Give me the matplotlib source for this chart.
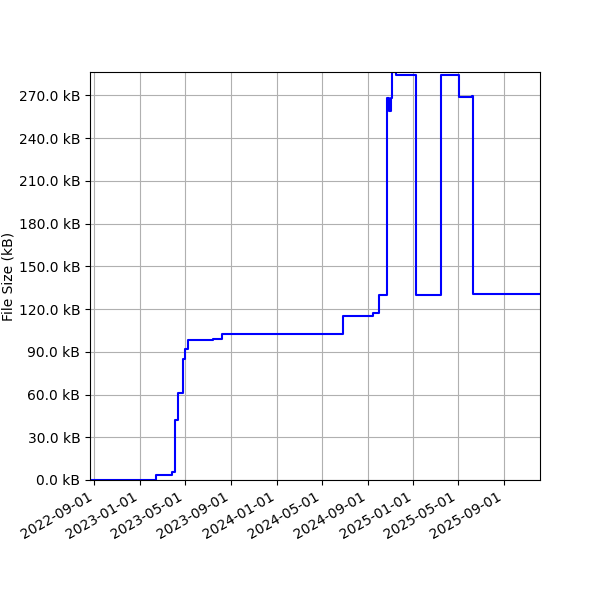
import numpy as np
import pandas as pd
import matplotlib
matplotlib.use("Agg")
import matplotlib.pyplot as plt
import matplotlib.dates as mdates
from matplotlib.ticker import MultipleLocator, FuncFormatter

# file size history
dates = ["2022-08-20", "2023-02-12", "2023-03-27", "2023-04-05", "2023-04-12",
         "2023-04-26", "2023-05-02", "2023-05-10", "2023-07-16", "2023-08-09",
         "2023-09-14", "2024-06-28", "2024-09-15", "2024-09-30", "2024-10-22",
         "2024-10-27", "2024-11-02", "2024-11-04", "2024-11-15", "2025-01-08",
         "2025-03-13", "2025-03-17", "2025-05-04", "2025-06-07", "2025-06-10",
         "2025-12-06"]
size_kb = [0.3, 3.3, 5.4, 42.0, 61.0,
           84.9, 91.9, 98.2, 99.1, 102.2,
           102.6, 115.3, 117.0, 129.9, 268.0,
           259.0, 268.0, 286.4, 284.0, 129.6,
           130.1, 284.3, 268.8, 269.3, 130.5,
           130.5]

dates = pd.to_datetime(dates)

fig, ax = plt.subplots(figsize=(6, 6), dpi=100)
ax.plot(dates, size_kb, color='blue', lw=1.5, drawstyle='steps-post')

ax.set_ylabel("File Size (kB)", labelpad=2.5)
ax.yaxis.set_major_locator(MultipleLocator(30))
ax.yaxis.set_major_formatter(FuncFormatter(lambda y, p: "%.1f kB" % y))
ax.set_ylim(0, max(size_kb))
ax.set_xlim(dates[0], dates[-1])

ax.xaxis.set_major_locator(mdates.MonthLocator(bymonth=[1, 5, 9]))
ax.xaxis.set_major_formatter(mdates.DateFormatter('%Y-%m-%d'))
ax.grid(True)

fig.autofmt_xdate()
fig.subplots_adjust(left=0.15, right=0.9, top=0.88, bottom=0.2)
fig.savefig("out.png")
